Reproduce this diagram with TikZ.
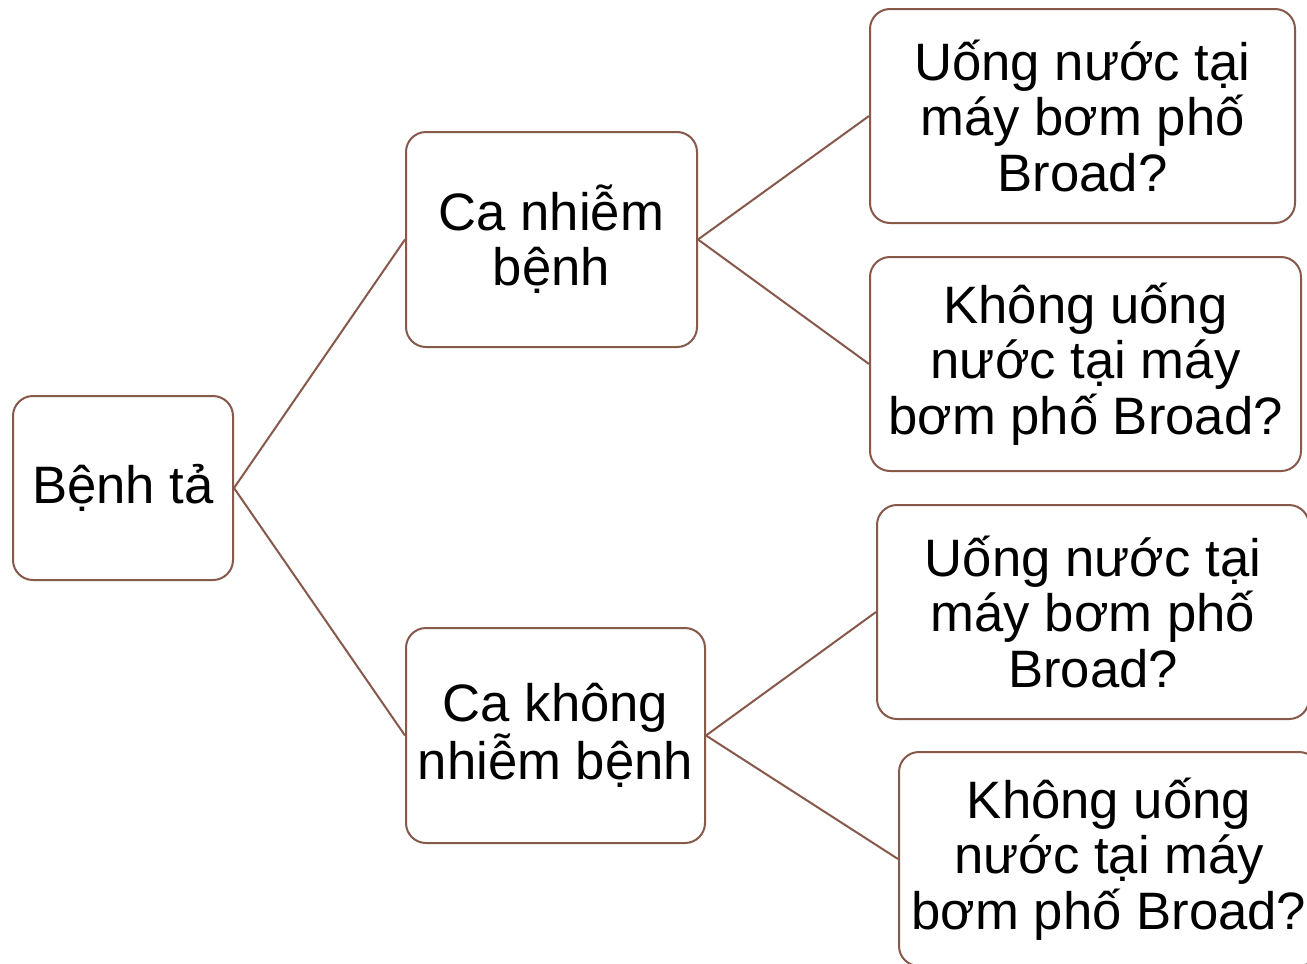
\documentclass[tikz,border=0pt]{standalone}
\usepackage{fontspec}
\setmainfont{Liberation Sans}
\definecolor{edgecol}{RGB}{134,89,74}
\begin{document}
\begin{tikzpicture}[x=0.75pt,y=-0.75pt,
  box/.style={draw=edgecol, line width=1.5pt, rounded corners=15pt, align=center,
    font=\fontsize{39.5}{41.5}\selectfont, inner sep=0pt, fill=white},
  link/.style={draw=edgecol, line width=1.5pt}]
\clip (0,0) rectangle (1307,964);
\fill[white] (0,0) rectangle (1307,964);
\node[box, minimum width=165pt, minimum height=138pt] (root) at (123,488) {Bệnh tả};
\node[box, minimum width=218.25pt, minimum height=161.25pt] (a) at (551.5,239.5) {Ca nhiễm\\bệnh};
\node[box, minimum width=224.25pt, minimum height=161.25pt] (b) at (555.5,735.5) {Ca không\\nhiễm bệnh};
\node[box, minimum width=318.75pt, minimum height=160.5pt] (l1) at (1082.5,116) {Uống nước tại\\máy bơm phố\\Broad?};
\node[box, minimum width=323.25pt, minimum height=160.5pt] (l2) at (1085.5,364) {Không uống\\nước tại máy\\bơm phố Broad?};
\node[box, minimum width=324pt, minimum height=160.5pt] (l3) at (1093,612) {Uống nước tại\\máy bơm phố\\Broad?};
\node[box, minimum width=315pt, minimum height=160.5pt] (l4) at (1109,859) {Không uống\\nước tại máy\\bơm phố Broad?};
\draw[link] (root.east) -- (a.west);
\draw[link] (root.east) -- (b.west);
\draw[link] (a.east) -- (l1.west);
\draw[link] (a.east) -- (l2.west);
\draw[link] (b.east) -- (l3.west);
\draw[link] (b.east) -- (l4.west);
\end{tikzpicture}
\end{document}
